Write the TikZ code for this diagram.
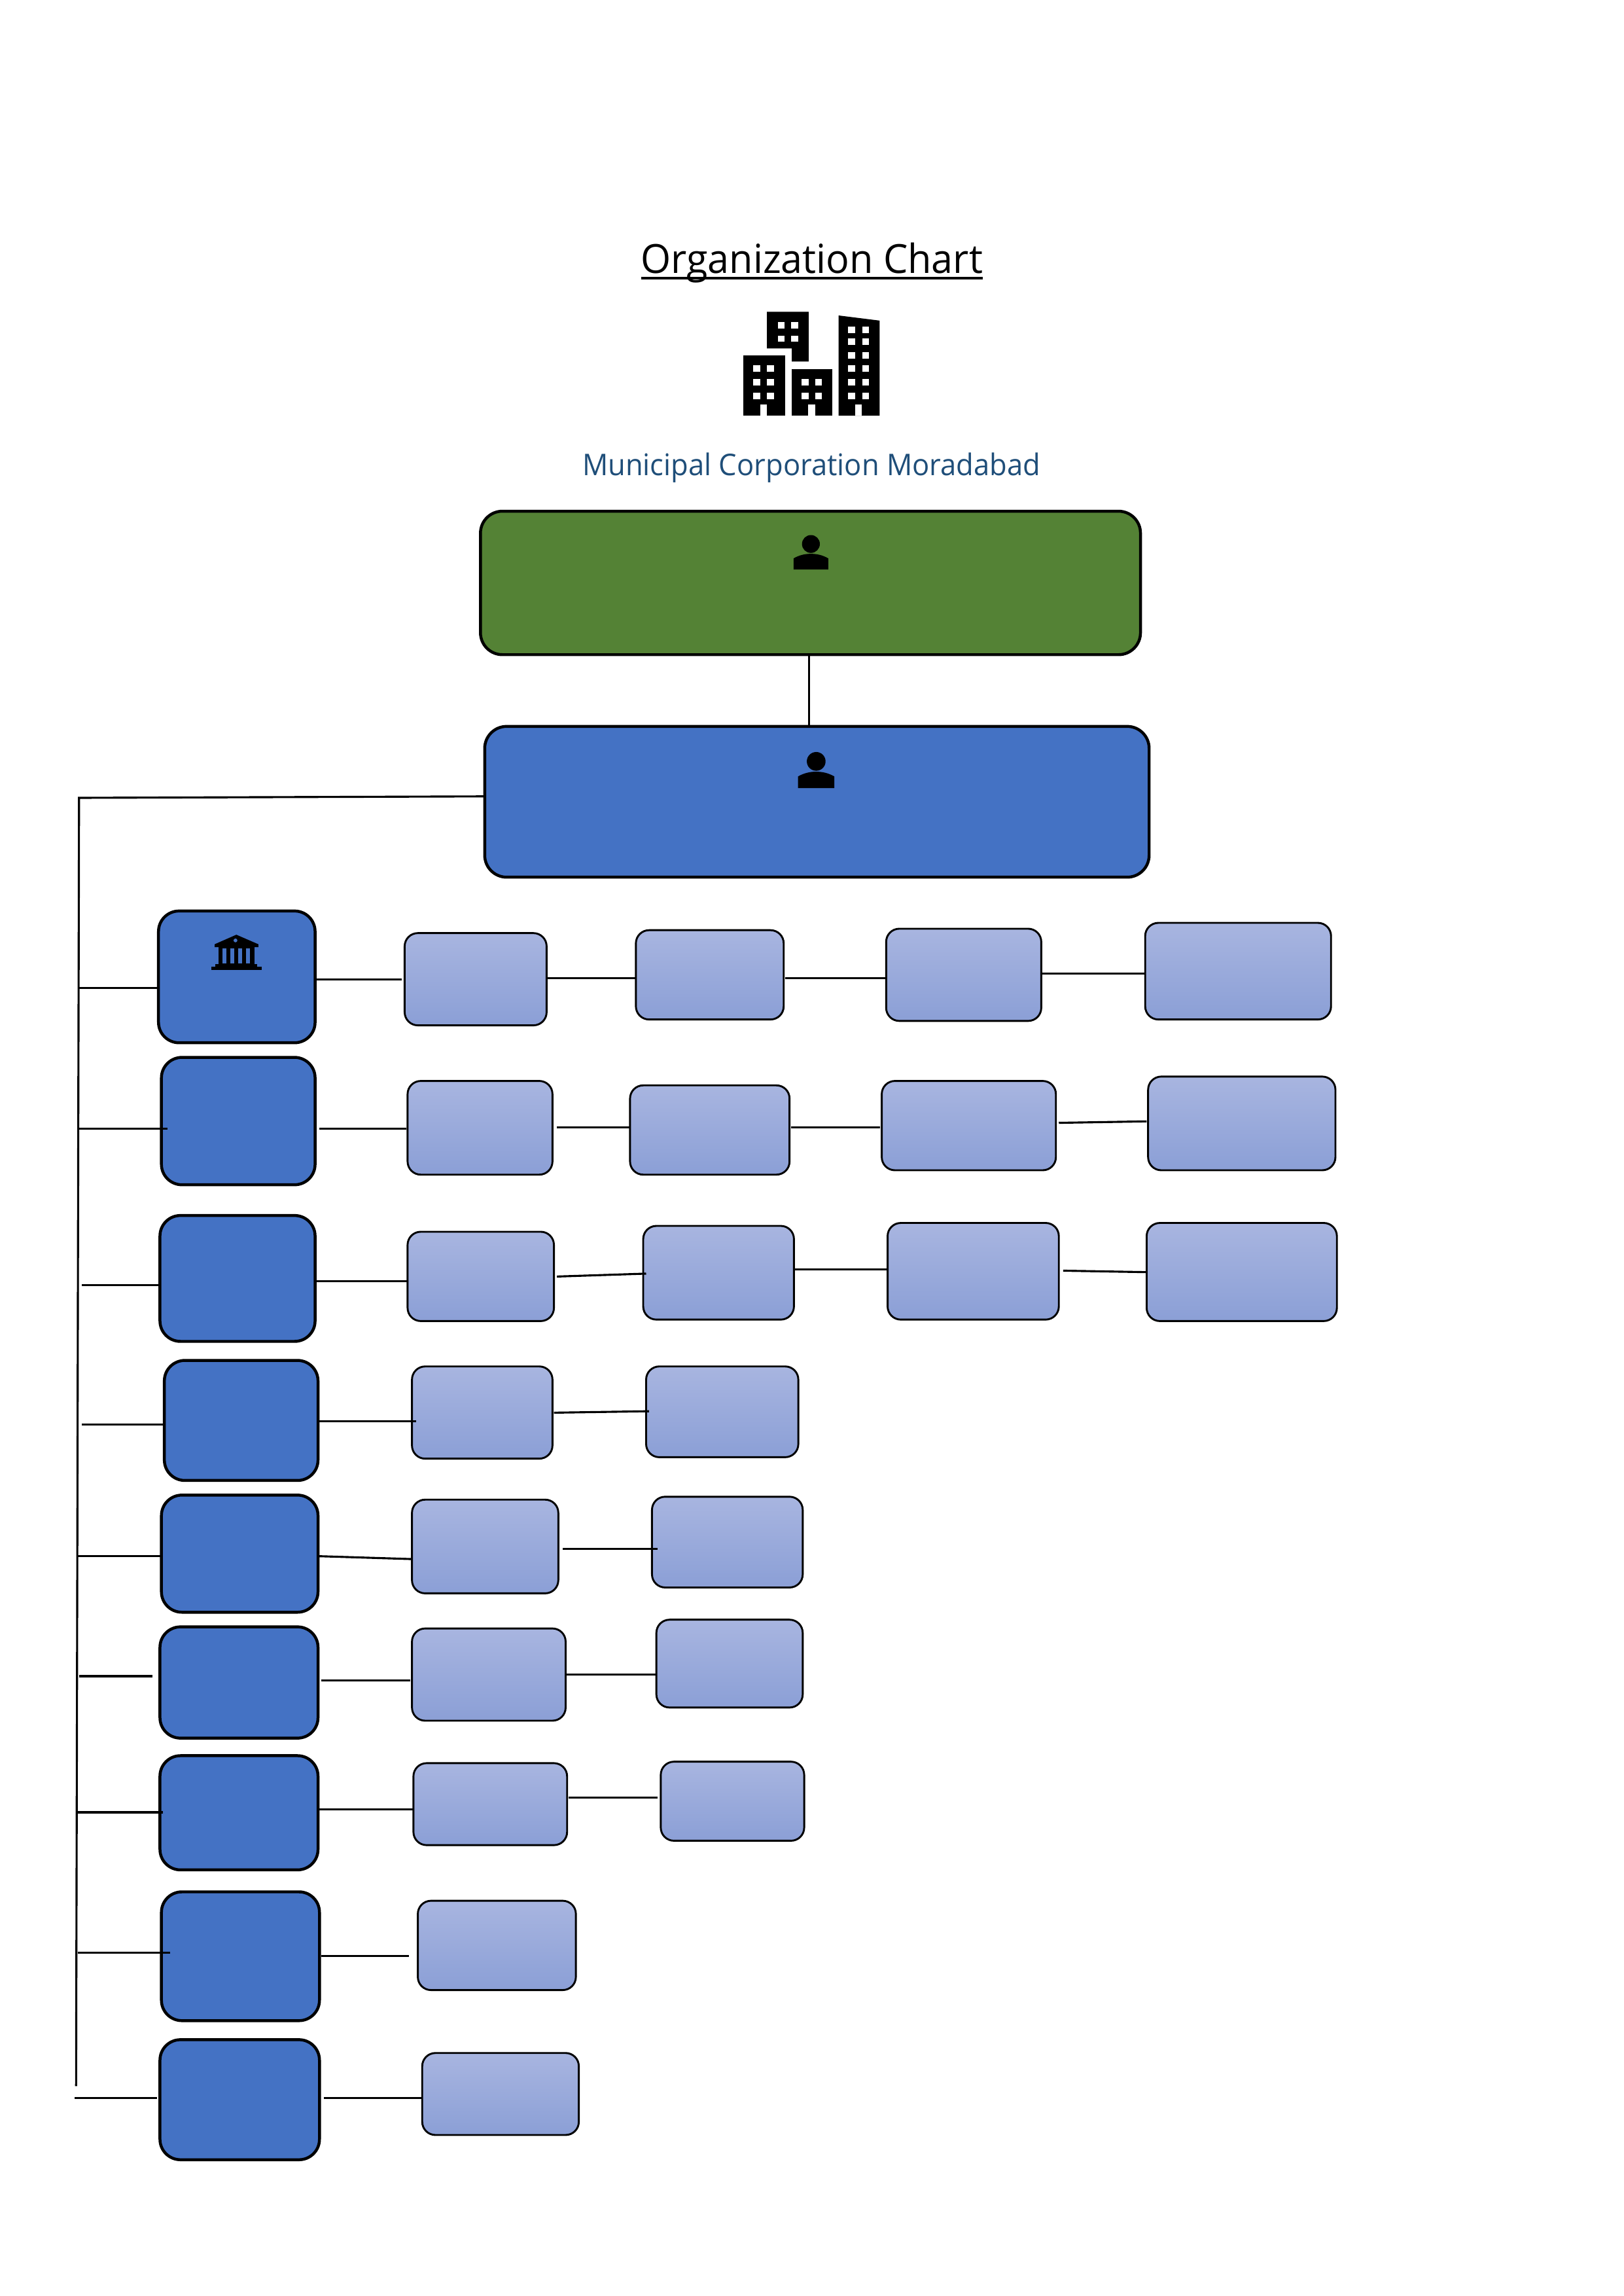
\documentclass[tikz,border=0pt]{standalone}
\usepackage{fontspec}
\setmainfont{Open Sans}
\newfontfamily\titlefont[FakeStretch=0.967]{Open Sans}
\newfontfamily\subtitlefont[FakeStretch=0.954]{Open Sans}
\usetikzlibrary{positioning,calc}
\definecolor{softgreen}{RGB}{84,130,53}
\definecolor{softblue}{RGB}{68,114,196}
\definecolor{paletop}{RGB}{168,181,224}
\definecolor{palebot}{RGB}{139,159,214}
\definecolor{subtitleblue}{RGB}{31,78,121}
\tikzset{
  headbox/.style={draw=black,line width=2pt,rounded corners=15pt,inner sep=0pt,outer sep=0pt},
  deptbox/.style={draw=black,line width=2pt,rounded corners=14pt,inner sep=0pt,outer sep=0pt,fill=softblue},
  unitbox/.style={draw=black,line width=1.3pt,rounded corners=9pt,inner sep=0pt,outer sep=0pt,top color=paletop,bottom color=palebot},
  conn/.style={draw=black,line width=1.4pt}
}
\newcommand{\personicon}[3]{% x, y of the head, scale
  \begin{scope}[shift={(#1,#2)},scale=#3]
  \fill[black] (0,0) circle[radius=6.1];
  \fill[black] (-11.8,17.4) -- (-11.8,9.8) .. controls (-8,7.6) and (-4,6.7) .. (0,6.7)
    .. controls (4,6.7) and (8,7.6) .. (11.8,9.8) -- (11.8,17.4) -- cycle;
  \end{scope}}
\begin{document}
\begin{tikzpicture}[x=1pt,y=-1pt]
\useasboundingbox (0,0) rectangle (1109.25,1568.4);

% Title
\node[anchor=base,inner sep=0pt,font=\titlefont\fontsize{27.4}{30}\selectfont] (title) at (554.7,186.6) {Organization Chart};
\draw[black,line width=2pt] (438,189.9) -- (671.4,189.9);
\node[anchor=base,inner sep=0pt,text=subtitleblue,font=\subtitlefont\fontsize{20.4}{24}\selectfont] (subtitle) at (554.5,324.9) {Municipal Corporation Moradabad};

% Buildings
\fill[black] (524,213) -- (552.5,213) -- (552.5,247) -- (541,247) -- (541,238) -- (524,238) -- cycle;
\fill[black] (508,242.6) rectangle (536.4,284);
\fill[black] (541,252) rectangle (568.5,284);
\fill[black] (573,215.5) -- (601,219) -- (601,284) -- (573,284) -- cycle;
\fill[white] (519.6,276.5) rectangle (524,284);
\fill[white] (552.3,276.5) rectangle (556.9,284);
\fill[white] (584.4,276.5) rectangle (589,284);
\foreach \wx/\wy in {514.8/249.6,524.1/249.6,514.8/258.9,524.1/258.9,514.8/268.2,524.1/268.2,
    547.6/258.9,556.9/258.9,547.6/268.2,556.9/268.2,531.4/220,540.5/220,531.4/229.3,540.5/229.3,
    579.6/223.3,589.1/223.3,579.6/231.2,589.1/231.2,579.6/240.5,589.1/240.5,
    579.6/249.6,589.1/249.6,579.6/258.9,589.1/258.9,579.6/268.2,589.1/268.2}
  \fill[white] (\wx,\wy) rectangle ++(4.8,4.3);

% Head boxes
\node[headbox,fill=softgreen,minimum width=451pt,minimum height=98pt] (mayor) at (553.8,398.2) {};
\node[headbox,fill=softblue,minimum width=454pt,minimum height=103pt] (commissioner) at (558.2,547.7) {};

% Department boxes
\foreach \nm/\xl/\yt/\xr/\yb in {d1/108/622/215/712,d2/110/722/215/809,d3/109/830/215/916,
    d4/112/929/217/1011,d5/110/1021/217/1101,d6/109/1111/217/1187,d7/109/1199/217/1277,
    d8/110/1292/218/1380,d9/109/1393/218/1475}
  \node[deptbox,minimum width={\xr-\xl},minimum height={\yb-\yt}] (\nm) at ({(\xl+\xr)/2+0.3},{(\yt+\yb)/2+0.3}) {};

% Unit boxes
\foreach \nm/\xl/\yt/\xr/\yb in {r1a/276/637/373/700,r1b/434/635/535/696,r1c/605/634/711/697,r1d/782/630/909/696,
    r2a/278/738/377/802,r2b/430/741/539/802,r2c/602/738/721/799,r2d/784/735/912/799,
    r3a/278/841/378/902,r3b/439/837/542/901,r3c/606/835/723/901,r3d/783/835/913/902,
    r4a/281/933/377/996,r4b/441/933/545/995,
    r5a/281/1024/381/1088,r5b/445/1022/548/1084,
    r6a/281/1112/386/1175,r6b/448/1106/548/1166,
    r7a/282/1204/387/1260,r7b/451/1203/549/1257,
    r8/285/1298/393/1359,r9/288/1402/395/1458}
  \node[unitbox,minimum width={\xr-\xl},minimum height={\yb-\yt}] (\nm) at ({(\xl+\xr)/2+0.5},{(\yt+\yb)/2+0.4}) {};

% Icons
\personicon{554.1}{371.6}{1}
\personicon{557.7}{520.1}{1.05}
\fill[black] (161.5,638.5) -- (176.5,645) -- (176.5,647) -- (146.7,647) -- (146.7,645) -- cycle;
\fill[black] (149.2,647) rectangle (174,658.6);
\fill[black] (147,658.6) rectangle (175.8,660.2);
\fill[black] (144.4,660.2) rectangle (178.8,662.6);
\foreach \gl/\gr in {151.9/154.6,157.4/159.9,162.7/165.2,168.1/170.8}
  \fill[softblue] (\gl,648) rectangle (\gr,658);
\fill[softblue] (160.9,642.4) circle[radius=1.3];

% Connectors
\draw[conn] (mayor.south -| 553,0) -- (commissioner.north -| 553,0);
\coordinate (trunktop) at (54,545);
\coordinate (trunkbot) at (52,1425);
\draw[conn] (commissioner.west |- 0,544) -- (trunktop) -- (trunkbot);
\foreach \n/\bx/\by/\tx in {1/54/675/0,2/54/771/4,3/56/878/0,4/56/973/0,5/53/1063/0,
    6/54/1145/-5,7/52/1238/2,8/53/1334/6,9/51/1433/-2}{
  \coordinate (b\n) at (\bx,\by);
  \draw[conn] (b\n) -- ($(d\n.west |- 0,\by)+(\tx,0)$);
}
\foreach \from/\to/\fx/\fy/\tx/\ty in {d1/r1a/1/669/-2/669,r1a/r1b/0/668/0/668,r1b/r1c/1/668/0/668,r1c/r1d/0/665/0/665,
    d2/r2a/3/771/-1/771,r2a/r2b/3/770/0/770,r2b/r2c/1/770/-1/770,r2c/r2d/2/767/-1/766,
    d3/r3a/1/875/0/875,r3a/r3b/2/872/2/870,r3b/r3c/0/867/0/867,r3c/r3d/3/868/0/869,
    d4/r4a/1/971/3/971,r4a/r4b/1/965/2/964,
    d5/r5a/0/1063/0/1065,r5a/r5b/3/1058/4/1058,
    d6/r6a/2/1148/-1/1148,r6a/r6b/0/1144/0/1144,
    d7/r7a/1/1236/0/1236,r7a/r7b/1/1228/-2/1228,
    d8/r8/1/1336/-6/1336,d9/r9/3/1433/0/1433}
  \draw[conn] ($(\from.east |- 0,\fy)+(\fx,0)$) -- ($(\to.west |- 0,\ty)+(\tx,0)$);
\end{tikzpicture}
\end{document}
